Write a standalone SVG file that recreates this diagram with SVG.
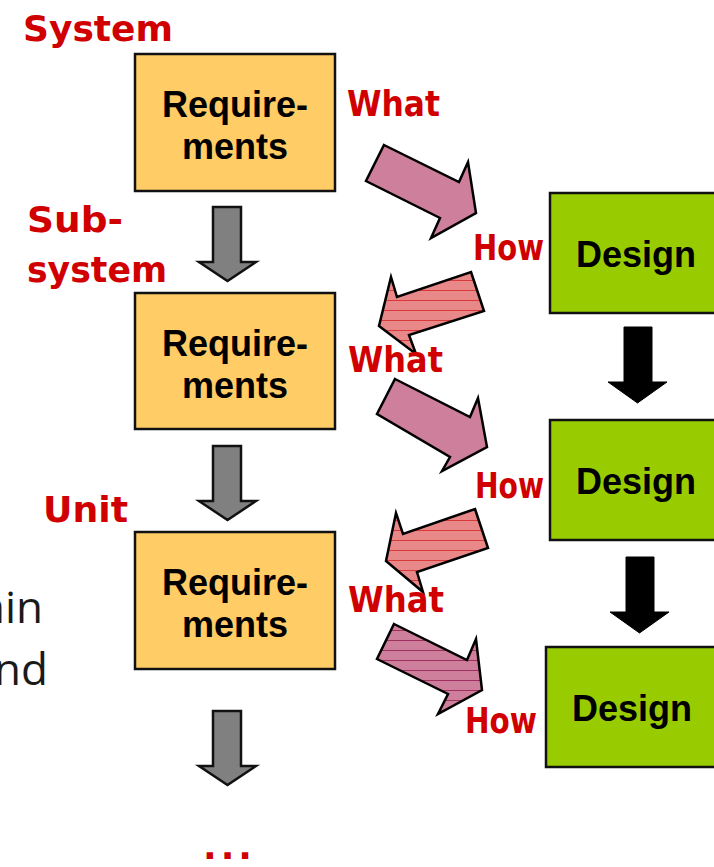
<svg xmlns="http://www.w3.org/2000/svg" width="714" height="867" viewBox="0 0 714 867">
<style>
.req{fill:#FFCC66;stroke:#111;stroke-width:2.5}
.des{fill:#99CC00;stroke:#111;stroke-width:2.5}
.bt{font-family:"Liberation Sans",Arial,sans-serif;font-weight:bold;font-size:36px;fill:#000;text-anchor:middle}
.rt{font-family:"DejaVu Sans",sans-serif;font-weight:bold;font-size:36px;fill:#D00000}
.side{font-family:"Open Sans","Noto Sans",sans-serif;font-size:44px;fill:#1a1a1a;text-anchor:end}
.ga{fill:#808080;stroke:#111;stroke-width:2.5;stroke-linejoin:miter}
.ba{fill:#000;stroke:#000;stroke-width:1}
.pa{fill:#CE7F9B;stroke:#000;stroke-width:2.5}
.sa{fill:url(#salmon);stroke:#000;stroke-width:2.5}
.ea{fill:url(#pinkstripe);stroke:#000;stroke-width:2.5}
</style>
<defs>
<pattern id="salmon" patternUnits="userSpaceOnUse" width="20" height="10">
<rect width="20" height="10" fill="#E98888"/>
<line x1="0" y1="0.5" x2="20" y2="0.5" stroke="#D83A3A" stroke-width="1"/>
</pattern>
<pattern id="pinkstripe" patternUnits="userSpaceOnUse" width="20" height="10">
<rect width="20" height="10" fill="#CE7F9B"/>
<line x1="0" y1="0.5" x2="20" y2="0.5" stroke="#A03060" stroke-width="1"/>
</pattern>
<path id="grayArrow" d="M213,207 H241 V262 H256 L227.5,281 L199,262 H213 Z"/>
<path id="blackArrow" d="M624,327 H652 V382 H667 L637.5,403 L608,382 H624 Z"/>
</defs>

<g id="side-text">
<text class="side" x="43" y="623">ain</text>
<text class="side" x="48" y="685">nd</text>
</g>

<g id="level-labels">
<text class="rt" x="23" y="41" textLength="150" lengthAdjust="spacingAndGlyphs">System</text>
<text class="rt" x="27" y="232" textLength="96" lengthAdjust="spacingAndGlyphs">Sub-</text>
<text class="rt" x="27" y="282" textLength="140" lengthAdjust="spacingAndGlyphs">system</text>
<text class="rt" x="43" y="522" textLength="85" lengthAdjust="spacingAndGlyphs">Unit</text>
<text class="rt" x="203" y="859" font-size="28" letter-spacing="4">...</text>
</g>

<g id="req1">
<rect class="req" x="135" y="54" width="200" height="137"/>
<text class="bt" x="235" y="117">Require-</text>
<text class="bt" x="235" y="159">ments</text>
</g>
<g id="req2">
<rect class="req" x="135" y="293" width="200" height="136"/>
<text class="bt" x="235" y="356">Require-</text>
<text class="bt" x="235" y="398">ments</text>
</g>
<g id="req3">
<rect class="req" x="135" y="532" width="200" height="137"/>
<text class="bt" x="235" y="595">Require-</text>
<text class="bt" x="235" y="637">ments</text>
</g>

<g id="design1">
<rect class="des" x="550" y="193" width="170" height="120"/>
<text class="bt" x="636" y="267">Design</text>
</g>
<g id="design2">
<rect class="des" x="550" y="420" width="170" height="120"/>
<text class="bt" x="636" y="494">Design</text>
</g>
<g id="design3">
<rect class="des" x="546" y="647" width="174" height="120"/>
<text class="bt" x="632" y="721">Design</text>
</g>

<g id="connectors">
<use href="#grayArrow" class="ga"/>
<use href="#grayArrow" class="ga" transform="translate(0,239)"/>
<use href="#grayArrow" class="ga" transform="translate(0,504)"/>
<use href="#blackArrow" class="ba"/>
<use href="#blackArrow" class="ba" transform="translate(2,230)"/>
<polygon class="pa" points="384,145 459,182 468,162 476,213 431,238 440,218 366,181"/>
<polygon class="sa" points="471,272 484,311 409,335 416,354 379,326 391,277 397,297"/>
<polygon class="pa" points="395,379 470,417 478,398 487,447 442,471 450,457 377,414"/>
<polygon class="sa" points="475,509 488,548 417,572 423,592 386,561 396,513 403,534"/>
<polygon class="ea" points="394,624 467,660 476,639 482,690 438,714 448,694 377,659"/>
</g>

<g id="flow-labels">
<text class="rt" x="347" y="116" textLength="93" lengthAdjust="spacingAndGlyphs">What</text>
<text class="rt" x="473" y="260" textLength="71" lengthAdjust="spacingAndGlyphs">How</text>
<text class="rt" x="348" y="372" textLength="95" lengthAdjust="spacingAndGlyphs">What</text>
<text class="rt" x="475" y="498" textLength="69" lengthAdjust="spacingAndGlyphs">How</text>
<text class="rt" x="348" y="612" textLength="96" lengthAdjust="spacingAndGlyphs">What</text>
<text class="rt" x="465" y="733" textLength="72" lengthAdjust="spacingAndGlyphs">How</text>
</g>
</svg>
